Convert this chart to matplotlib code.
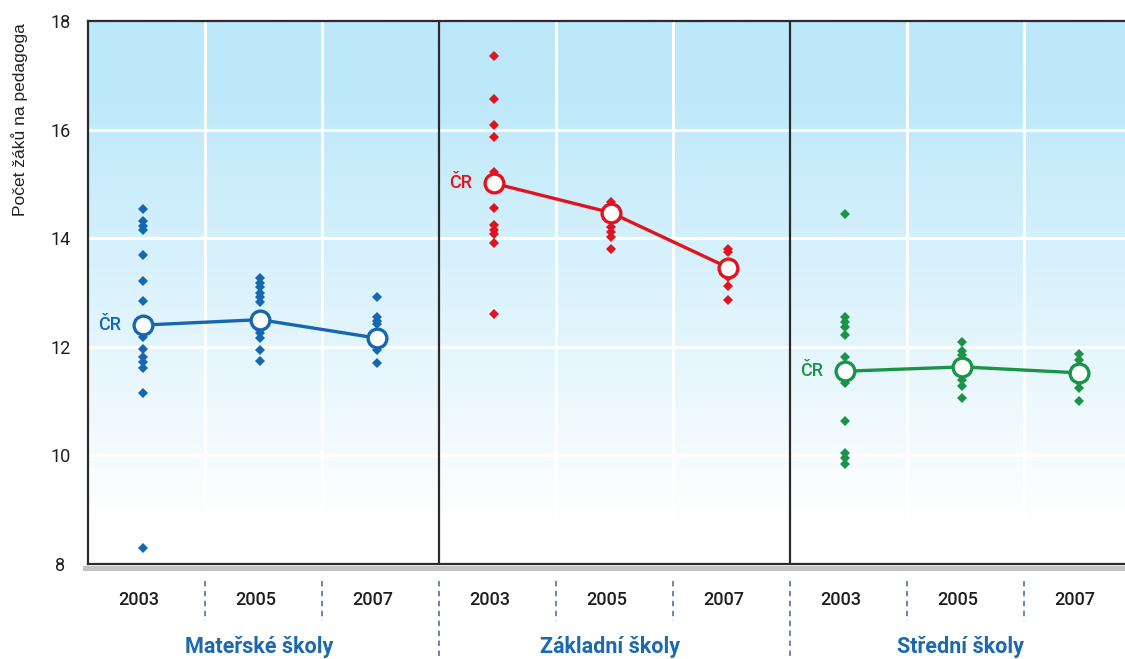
import numpy as np
import matplotlib
matplotlib.use("Agg")
import matplotlib.pyplot as plt
from matplotlib import font_manager
from matplotlib.patches import Rectangle
from matplotlib.transforms import blended_transform_factory

# ---- data -----------------------------------------------------------------
years = ["2003", "2005", "2007"]
school_types = ["Mateřské školy", "Základní školy", "Střední školy"]
y_ticks = [8, 10, 12, 14, 16, 18]

# regional values (pupils per teacher)
ms_2003 = [14.54, 14.31, 14.22, 14.15, 13.69, 13.22, 12.85, 12.18, 11.96,
           11.82, 11.72, 11.61, 11.15, 8.30]
ms_2005 = [13.26, 13.17, 13.10, 12.99, 12.91, 12.83, 12.31, 12.25, 12.16,
           11.94, 11.74]
ms_2007 = [12.92, 12.55, 12.48, 12.42, 11.94, 11.70]

zs_2003 = [17.36, 16.56, 16.09, 15.87, 15.22, 14.55, 14.24, 14.15, 14.08,
           13.91, 12.60]
zs_2005 = [14.67, 14.21, 14.12, 14.03, 13.81]
zs_2007 = [13.81, 13.75, 13.29, 13.12, 12.86]

ss_2003 = [14.45, 12.55, 12.46, 12.37, 12.22, 11.82, 11.33, 10.64, 10.04,
           9.95, 9.84]
ss_2005 = [12.08, 11.93, 11.85, 11.39, 11.27, 11.05]
ss_2007 = [11.87, 11.76, 11.36, 11.25, 11.01]

# national average (ČR)
cr_ms = [12.40, 12.50, 12.16]
cr_zs = [15.01, 14.47, 13.46]
cr_ss = [11.55, 11.63, 11.52]

regions = [[ms_2003, ms_2005, ms_2007],
           [zs_2003, zs_2005, zs_2007],
           [ss_2003, ss_2005, ss_2007]]
national = [cr_ms, cr_zs, cr_ss]
colors = ["#1767b0", "#e0141e", "#1b9448"]
label_blue = "#1b69ae"

# ---- fonts ----------------------------------------------------------------
installed = {f.name for f in font_manager.fontManager.ttflist}
narrow = "Liberation Sans Narrow" if "Liberation Sans Narrow" in installed else "Roboto"
plt.rcParams["font.family"] = [narrow, "DejaVu Sans"]

W, H = 1125, 659
fig = plt.figure(figsize=(W / 100, H / 100), dpi=100)
ax_left, ax_top, ax_bottom = 88, 21, 564
unit = 117
ax = fig.add_axes([ax_left / W, (H - ax_bottom) / H,
                   9 * unit / W, (ax_bottom - ax_top) / H])
ax.set_xlim(0, 9)
ax.set_ylim(8, 18)

# background gradient: light blue at the top fading to white
yy = np.linspace(18, 8, 500)
f = (18 - yy) / 10
w = np.clip((f - 0.12) / 0.80, 0, 1)
top = np.array([188, 232, 250]) / 255
rgb = top[None, :] * (1 - w[:, None]) + w[:, None]
ax.imshow(rgb[:, None, :], extent=(0, 9, 8, 18), aspect="auto",
          interpolation="bilinear", zorder=0)

# white grid
for yv in [10, 12, 14, 16]:
    ax.axhline(yv, color="white", lw=2.2, zorder=1)
for xv in [1, 2, 4, 5, 7, 8]:
    ax.axvline(xv, color="white", lw=2.2, zorder=1)

# frame and panel dividers
frame_c = "#2b2b2b"
for side in ["left", "top", "bottom"]:
    ax.spines[side].set_color(frame_c)
    ax.spines[side].set_linewidth(1.6)
ax.spines["right"].set_visible(False)
for xv in [3, 6]:
    ax.axvline(xv, color=frame_c, lw=1.6, zorder=3)

# shadow under the bottom edge
ax.add_patch(Rectangle((-0.005, -0.013), 1.1, 0.010, transform=ax.transAxes,
                       color="#c4c4c4", lw=0, clip_on=False, zorder=0))

# y axis
ax.set_yticks(y_ticks)
ax.set_yticklabels([str(v) for v in y_ticks])
ax.tick_params(axis="y", length=0, pad=20, labelsize=13, labelcolor="#1e1e1e")
for lbl in ax.get_yticklabels():
    lbl.set_horizontalalignment("center")
ax.set_xticks([])
fig.text(20 / W, 1 - 120 / H, "Počet žáků na pedagoga", rotation=90,
         ha="center", va="center", fontsize=12.5, color="#222222",
         family=["Liberation Sans", "DejaVu Sans"])

# points
off = 0.47
for p in range(3):
    xs_cr = [p * 3 + j + off for j in range(3)]
    for j in range(3):
        vals = regions[p][j]
        ax.plot([xs_cr[j]] * len(vals), vals, linestyle="none", marker="D",
                ms=4.8, mew=0, color=colors[p], zorder=4)
    ax.plot(xs_cr, national[p], color=colors[p], lw=2.4, zorder=5)
    ax.plot(xs_cr, national[p], linestyle="none", marker="o", ms=13.5,
            mfc="white", mec=colors[p], mew=2.4, zorder=6)
    ax.text(xs_cr[0] - 0.19, national[p][0], "ČR", ha="right", va="center",
            fontsize=13, fontweight="medium", color=colors[p], zorder=6)

# category axis below the plot
tr = blended_transform_factory(ax.transData, ax.transAxes)
px = lambda py: (ax_bottom - py) / (ax_bottom - ax_top)
for p in range(3):
    for j, yr in enumerate(years):
        ax.text(p * 3 + j + 0.43, px(600), yr, transform=tr, ha="center",
                va="center", fontsize=13, fontweight="medium", color="#1e1e1e")
    ax.text(p * 3 + 1.46, px(647), school_types[p], transform=tr,
            ha="center", va="center", fontsize=15.5, fontweight="bold",
            color=label_blue)
sep_c = "#5b7fa6"
for xv in range(1, 9):
    y_end = px(H + 5) if xv in (3, 6) else px(621)
    ax.plot([xv, xv], [px(581), y_end], transform=tr, color=sep_c, lw=1.3,
            linestyle=(0, (3, 2.5)), clip_on=False, zorder=1)

fig.savefig("out.png", dpi=100)
